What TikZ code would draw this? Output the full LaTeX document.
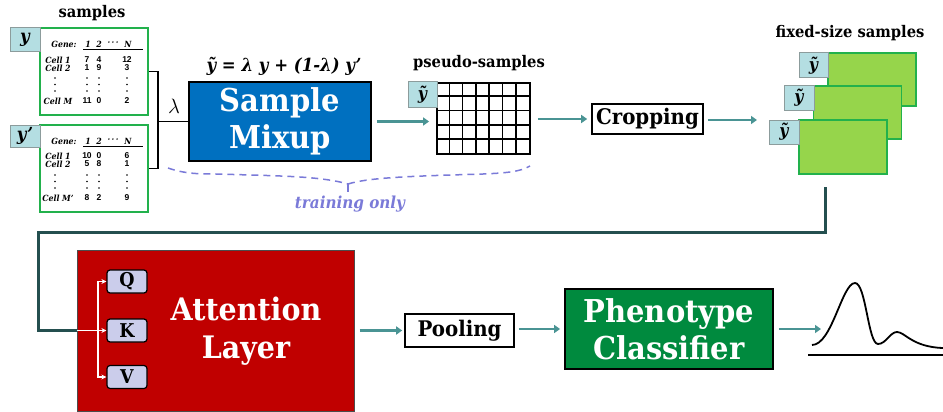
\documentclass[tikz,border=0pt]{standalone}
\usepackage{fontspec}
\setmainfont{DejaVu Serif}[FakeStretch=0.92]
\newfontfamily\numfont{Liberation Sans}
\usetikzlibrary{arrows.meta}
\definecolor{tealA}{HTML}{4A9494}
\definecolor{loopC}{HTML}{244F4F}
\definecolor{labF}{HTML}{B4DEE2}
\definecolor{labB}{HTML}{8C9C9C}
\definecolor{tabG}{HTML}{22B14C}
\definecolor{mixB}{HTML}{0070C0}
\definecolor{fsF}{HTML}{96D54B}
\definecolor{redB}{HTML}{C00000}
\definecolor{qkvF}{HTML}{CBCDEB}
\definecolor{phenoG}{HTML}{008A3E}
\definecolor{lav}{HTML}{7A7AD8}
\tikzset{
  lab/.style={draw=labB, fill=labF, line width=1pt, inner sep=0pt,
    font=\fontsize{18}{18}\selectfont\bfseries\itshape},
  tab/.style={draw=tabG, line width=1.5pt, fill=white, minimum width=108pt,
    minimum height=87pt, inner sep=0pt},
  hdr/.style={inner sep=0pt, font=\fontsize{16}{16}\selectfont\bfseries},
  celll/.style={inner sep=0pt, font=\fontsize{8.5}{9}\selectfont\bfseries\itshape},
  num/.style={inner sep=0pt, font=\fontsize{8.5}{9}\selectfont\numfont\bfseries},
  bigbox/.style={draw=black, line width=1.8pt, inner sep=0pt, text=white,
    align=center, font=\fontsize{31.5}{37}\selectfont\bfseries},
  midbox/.style={draw=black, line width=1.6pt, fill=white, inner sep=0pt,
    font=\fontsize{21.5}{21.5}\selectfont\bfseries},
  arr/.style={draw=tealA, line width=2.6pt, -{Triangle[length=6pt,width=8pt]}},
  brk/.style={draw=black, line width=1.2pt},
  fs/.style={draw=tabG, fill=fsF, line width=1.5pt, minimum width=88pt,
    minimum height=53pt, inner sep=0pt},
  qkv/.style={draw=black, fill=qkvF, line width=1.2pt, rounded corners=3pt,
    minimum width=40pt, minimum height=23pt, inner sep=0pt,
    font=\fontsize{19}{19}\selectfont\bfseries},
  wline/.style={draw=white, line width=1.2pt, -{Stealth[length=5pt,width=5pt]}},
  tl/.style={lab, font=\fontsize{17}{17}\selectfont\bfseries\itshape},
}
\begin{document}
\begin{tikzpicture}[x=1pt,y=-1pt]
\useasboundingbox (0,0) rectangle (943,412);

% ---------- headings
\node[hdr] (hsamp) at (92,13) {samples};
\node[hdr] (hpseudo) at (479,63) {pseudo-samples};
\node[hdr] (hfixed) at (850,33) {fixed-size samples};

% ---------- input tables
\node[tab] (tab1) at (94,71.5) {};
\node[tab] (tab2) at (94,168.5) {};
\node[lab, minimum width=30pt, minimum height=24pt] (ylab) at (25,40) {y};
\node[lab, minimum width=30pt, minimum height=22pt] (yplab) at (25,136) {y\kern1pt'};

% table 1
\node[celll] (t1g) at (64,44) {Gene:};
\node[celll] (t1h1) at (88,44) {1};
\node[celll] (t1h2) at (99,44) {2};
\node[celll] (t1hd) at (113,44) {·\,·\,·};
\node[celll] (t1hn) at (128,44) {N};
\draw[line width=0.8pt] (83,49.5) -- (143,49.5);
\foreach \r/\yy/\lbl/\a/\b/\c in {1/60/Cell 1/7/4/12, 2/68/Cell 2/1/9/3, 3/101/Cell M/11/0/2}{
  \node[celll] (t1l\r) at (58,\yy) {\lbl};
  \node[num] (t1a\r) at (87,\yy) {\a};
  \node[num] (t1b\r) at (99,\yy) {\b};
  \node[num] (t1c\r) at (127,\yy) {\c};
}
\foreach \x in {55,87,99,127}
  \foreach \yy in {78,84.5,91}
    \fill (\x,\yy) circle[radius=0.9pt];

% table 2
\node[celll] (t2g) at (64,141) {Gene:};
\node[celll] (t2h1) at (88,141) {1};
\node[celll] (t2h2) at (99,141) {2};
\node[celll] (t2hd) at (113,141) {·\,·\,·};
\node[celll] (t2hn) at (128,141) {N};
\draw[line width=0.8pt] (83,146.5) -- (143,146.5);
\foreach \r/\yy/\lbl/\a/\b/\c in {1/156/Cell 1/10/0/6, 2/164/Cell 2/5/8/1, 3/198/Cell M'/8/2/9}{
  \node[celll] (t2l\r) at (58,\yy) {\lbl};
  \node[num] (t2a\r) at (87,\yy) {\a};
  \node[num] (t2b\r) at (99,\yy) {\b};
  \node[num] (t2c\r) at (127,\yy) {\c};
}
\foreach \x in {55,87,99,127}
  \foreach \yy in {175,181.5,188}
    \fill (\x,\yy) circle[radius=0.9pt];

% ---------- sample mixup
\node[bigbox, fill=mixB, minimum width=182pt, minimum height=79pt] (mix) at (280,121.5) {Sample\\Mixup};
\coordinate (brx) at (158,121.5);
\draw[brk] (tab1.east) -| (brx) |- (tab2.east);
\draw[brk] (brx) -- (mix.west);
\node[inner sep=0pt] (lam) at (174,106) {\fontsize{22}{22}\selectfont$\lambda$};
\node[inner sep=0pt, font=\fontsize{18}{18}\selectfont\bfseries\itshape] (form) at (284,66)
  {ỹ = λ y + (1-λ) y'};

% training only brace
\draw[lav, line width=1.5pt, dash pattern=on 7pt off 5pt]
  (168,168) .. controls (185,174) and (200,174) .. (217,174)
  .. controls (280,176) and (320,176) .. (348,184);
\draw[lav, line width=1.5pt, dash pattern=on 7pt off 5pt]
  (348,184) .. controls (370,177) and (420,176) .. (483,174)
  .. controls (505,173) and (520,172) .. (530,166);
\draw[lav, line width=1.5pt] (348,184) -- (348,192);
\node[inner sep=0pt, text=lav, font=\fontsize{16.5}{16.5}\selectfont\bfseries\itshape] (train) at (350,204) {training only};

% ---------- pseudo-samples grid
\node[draw=black, line width=1.8pt, minimum width=93pt, minimum height=71pt, inner sep=0pt] (grid) at (483.5,118.5) {};
\foreach \i in {1,...,6}
  \draw[line width=1.6pt] (grid.north west) ++({\i*93/7},0) -- ++(0,71);
\foreach \j in {1,...,4}
  \draw[line width=1.6pt] (grid.north west) ++(0,{\j*71/5}) -- ++(93,0);
\node[tl, minimum width=29pt, minimum height=25pt] (pslab) at (422.5,94.5) {ỹ};
\draw[arr, shorten <=5pt, shorten >=7pt] (mix.east) -- (grid.west |- mix.east);

% ---------- cropping
\node[midbox, minimum width=111pt, minimum height=30pt] (crop) at (647.5,119) {Cropping};
\draw[arr, shorten <=7pt, shorten >=4pt] (grid.east |- crop.west) -- (crop.west);

% ---------- fixed-size samples
\node[fs] (f3) at (872,79.5) {};
\node[tl, minimum width=29pt, minimum height=25pt] (f3l) at (813.5,65.5) {ỹ};
\node[fs] (f2) at (857.5,112.5) {};
\node[tl, minimum width=30pt, minimum height=24pt] (f2l) at (799,98) {ỹ};
\node[fs, minimum height=54pt] (f1) at (843,147) {};
\node[tl, minimum width=30pt, minimum height=24pt] (f1l) at (784,132) {ỹ};
\coordinate (fin) at (757,120);
\draw[arr, shorten <=4pt] (crop.east |- fin) -- (fin);

% ---------- attention layer
\node[draw=black!70, line width=1pt, fill=redB, minimum width=277pt, minimum height=161pt, inner sep=0pt] (attn) at (215.5,330.5) {};
\node[inner sep=0pt, text=white, align=center, font=\fontsize{31}{38}\selectfont\bfseries] (attnt) at (246,331) {Attention\\Layer};
\node[qkv] (Q) at (127,281.5) {Q};
\node[qkv] (K) at (127,330.5) {K};
\node[qkv] (V) at (127,377) {V};
\coordinate (lp) at (825,187);
\coordinate (lc) at (38,232);
\draw[loopC, line width=3pt] (lp) |- (lc) |- (attn.west);
\coordinate (br2) at (98,330.5);
\draw[wline] (attn.west) -- (K.west);
\draw[wline] (br2) |- (Q.west);
\draw[wline] (br2) |- (V.west);

% ---------- pooling, classifier
\node[midbox, minimum width=109pt, minimum height=33pt] (pool) at (459.5,330.5) {Pooling};
\draw[arr, shorten <=5pt, shorten >=2pt] (attn.east |- pool.west) -- (pool.west);
\node[bigbox, fill=phenoG, minimum width=208pt, minimum height=80pt] (pheno) at (669,329) {Phenotype\\Classifier};
\draw[arr, shorten <=4pt, shorten >=4pt] (pool.east |- pheno.west) -- (pheno.west);
\coordinate (cv) at (821,329);
\draw[arr, shorten <=5pt] (pheno.east) -- (cv);

% ---------- output distribution
\draw[line width=1.8pt] (808,355) -- (943,355);
\draw[line width=1.8pt, line join=round]
  (812,345) .. controls (832,345) and (842,283) .. (855,283)
  .. controls (866,283) and (868,344) .. (878,344)
  .. controls (886,344) and (890,332) .. (897,332)
  .. controls (905,332) and (912,347) .. (943,348);
\end{tikzpicture}
\end{document}
